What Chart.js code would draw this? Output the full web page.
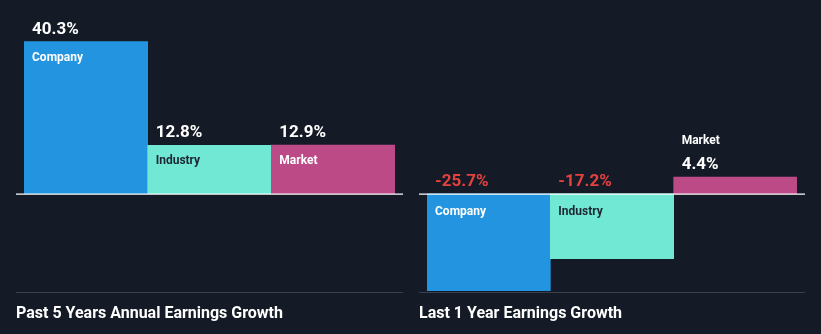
<!DOCTYPE html>
<html>
<head>
<meta charset="utf-8">
<script src="https://cdn.jsdelivr.net/npm/chart.js@4"></script>
<style>
  html, body { margin: 0; padding: 0; background: #151b26; }
  #wrap { position: relative; width: 821px; height: 334px; overflow: hidden; }
  canvas { position: absolute; top: 0; }
</style>
</head>
<body>
<div id="wrap">
  <canvas id="fiveYear" width="410" height="334" style="left:0"></canvas>
  <canvas id="oneYear" width="411" height="334" style="left:410px"></canvas>
</div>
<script>
// Earnings growth, in percent
const categories = ['Company', 'Industry', 'Market'];
const fiveYearGrowth = [40.3, 12.8, 12.9];
const oneYearGrowth = [-25.7, -17.2, 4.4];
const panelTitles = ['Past 5 Years Annual Earnings Growth', 'Last 1 Year Earnings Growth'];

const barColors = ['#2394df', '#70e8d4', '#bb4a87'];
const nameColors = ['#ffffff', '#1c2632', '#ffffff'];
const FONT = 'Roboto, "Noto Sans", sans-serif';

// Draws the zero line, bottom rule, panel title and the value / name labels of each bar
const growthLabels = {
  id: 'growthLabels',
  afterDatasetsDraw(chart, args, opts) {
    const ctx = chart.ctx;
    const zero = chart.scales.y.getPixelForValue(0);
    const meta = chart.getDatasetMeta(0);
    const values = chart.data.datasets[0].data;
    ctx.save();

    ctx.strokeStyle = '#ffffff';
    ctx.lineWidth = 1.3;
    ctx.beginPath();
    ctx.moveTo(opts.from, zero + 0.4);
    ctx.lineTo(opts.to, zero + 0.4);
    ctx.stroke();

    ctx.strokeStyle = '#3a404b';
    ctx.lineWidth = 1;
    ctx.beginPath();
    ctx.moveTo(opts.from, 292.5);
    ctx.lineTo(opts.to, 292.5);
    ctx.stroke();

    ctx.textBaseline = 'alphabetic';
    ctx.textAlign = 'left';
    ctx.fillStyle = '#ffffff';
    ctx.font = 'bold 16px ' + FONT;
    ctx.fillText(opts.title, opts.from, 318);

    meta.data.forEach((bar, i) => {
      const v = values[i];
      const x = bar.x - bar.width / 2 + 8;
      const valueText = v.toFixed(1) + '%';
      const name = chart.data.labels[i];
      if (v >= 0) {
        const top = bar.y;
        const h = zero - top;
        ctx.font = 'bold 17px ' + FONT;
        ctx.fillStyle = '#ffffff';
        ctx.fillText(valueText, x, top - 8);
        ctx.font = 'bold 12px ' + FONT;
        if (h >= 30) {
          ctx.fillStyle = nameColors[i];
          ctx.fillText(name, x, top + 19);
        } else {
          ctx.fillStyle = '#ffffff';
          ctx.fillText(name, x, top - 33);
        }
      } else {
        ctx.font = 'bold 17px ' + FONT;
        ctx.fillStyle = '#e5413f';
        ctx.fillText(valueText, x, zero - 7.5);
        ctx.font = 'bold 12px ' + FONT;
        ctx.fillStyle = nameColors[i];
        ctx.fillText(name, x, zero + 21);
      }
    });
    ctx.restore();
  }
};

function growthChart(id, values, padding, labelOpts) {
  return new Chart(document.getElementById(id), {
    type: 'bar',
    data: {
      labels: categories,
      datasets: [{
        data: values,
        backgroundColor: barColors,
        borderWidth: 0,
        barPercentage: 1,
        categoryPercentage: 1
      }]
    },
    options: {
      responsive: false,
      animation: false,
      layout: { padding: padding },
      scales: {
        x: { display: false },
        y: { display: false, min: -30, max: 50 }
      },
      plugins: {
        legend: { display: false },
        tooltip: { enabled: false },
        growthLabels: labelOpts
      }
    },
    plugins: [growthLabels]
  });
}

growthChart('fiveYear', fiveYearGrowth,
  { left: 24, right: 15, top: 5, bottom: 27 },
  { from: 16, to: 403, title: panelTitles[0] });
growthChart('oneYear', oneYearGrowth,
  { left: 17, right: 24, top: 5, bottom: 27 },
  { from: 9, to: 395, title: panelTitles[1] });
</script>
</body>
</html>
